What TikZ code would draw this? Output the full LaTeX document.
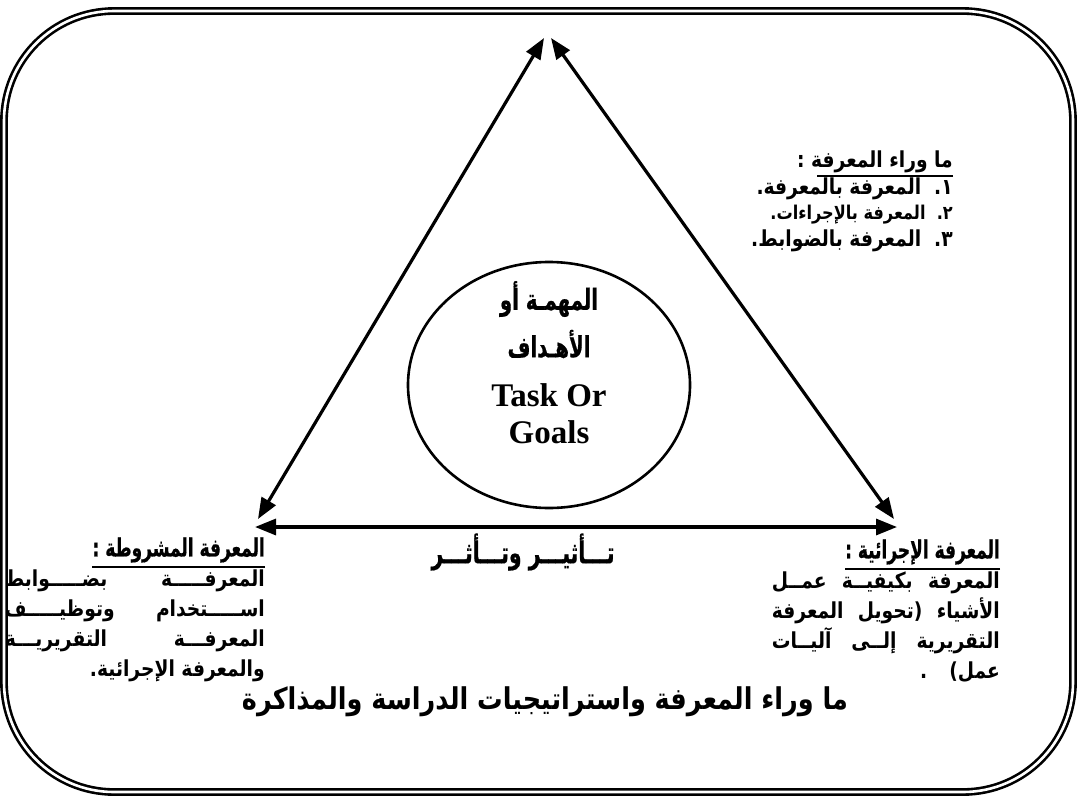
\documentclass[tikz,border=0pt]{standalone}
\usepackage{fontspec}
\setmainfont{Liberation Serif}
\newfontfamily\arabicfont[Script=Arabic, FakeStretch=0.85]{DejaVu Sans}
\newfontfamily\naskhfont[Script=Arabic, FakeStretch=0.68, FakeBold=0.6]{DejaVu Sans}
\TeXXeTstate=1
\usetikzlibrary{arrows.meta,positioning,shapes.geometric}
% one right-to-left line, and one stretched to a given width
\newcommand{\rtl}[1]{\beginR #1\endR}
\newcommand{\jline}[2]{\hbox to #1{\beginR #2\endR}}

\begin{document}
\begin{tikzpicture}[x=1pt, y=-1pt,
  frame/.style={double, double distance=2.6pt, line width=2.6pt, rounded corners=110pt},
  link/.style={{Triangle[length=21pt,width=16pt]}-{Triangle[length=21pt,width=16pt]}, line width=3.2pt},
  arab/.style={font=\arabicfont\bfseries\fontsize{22}{30}\selectfont, inner sep=0pt},
  head/.style={font=\naskhfont\bfseries\fontsize{25}{28}\selectfont, inner sep=0pt},
  uline/.style={line width=1.5pt}]
  \useasboundingbox (0,0) rectangle (1078,798);
  \draw[frame] (4,11) rectangle (1073,792);

  % corners of the triangle
  \coordinate (apexL) at (544,38);
  \coordinate (apexR) at (551,38);
  \coordinate (leftD) at (258,519);
  \coordinate (leftH) at (255,527);
  \coordinate (rightD) at (894,519);
  \coordinate (rightH) at (897,527);
  \draw[link] (leftD) -- (apexL);
  \draw[link] (rightD) -- (apexR);
  \draw[link] (leftH) -- (rightH);

  % task in the middle
  \node[ellipse, draw, line width=2.6pt, minimum width=282pt, minimum height=246pt] (goal) at (549,385) {};
  \node[head, font=\naskhfont\bfseries\fontsize{29}{30}\selectfont] (goalA) at (549,299) {\rtl{المهمـة أو}};
  \node[head, font=\naskhfont\bfseries\fontsize{29}{30}\selectfont] (goalB) at (549,344) {\rtl{الأهـداف}};
  \node[font=\bfseries\fontsize{33}{33}\selectfont, inner sep=0pt] (goalC) at (549,395) {Task Or};
  \node[font=\bfseries\fontsize{33}{33}\selectfont, inner sep=0pt] (goalD) at (549,432) {Goals};

  % metacognition list
  \node[arab, anchor=east] (metaT) at (953,162) {\rtl{ما وراء المعرفة :}};
  \draw[uline] ([yshift=-3pt]metaT.south east) -- ([xshift=20pt,yshift=-3pt]metaT.south west);
  \node[arab, anchor=east] (meta1) at (953,189) {\rtl{١.\ \ المعرفة بالمعرفة.}};
  \node[arab, anchor=east, font=\arabicfont\bfseries\fontsize{19}{24}\selectfont] (meta2) at (953,215) {\rtl{٢.\ \ المعرفة بالإجراءات.}};
  \node[arab, anchor=east] (meta3) at (953,241) {\rtl{٣.\ \ المعرفة بالضوابط.}};

  % conditional knowledge
  \node[head, anchor=east] (condT) at (265,550) {\rtl{المعرفة المشروطة :}};
  \draw[uline] ([yshift=-4pt]condT.south east) -- ([yshift=-4pt]condT.south west);
  \node[arab, anchor=north east, align=right] (condB) at (265,570) {%
    \jline{260pt}{المعرفـــــة \hfill بضـــــوابط}\\
    \jline{260pt}{اســـــتخدام \hfill وتوظيـــــف}\\
    \jline{260pt}{المعرفـــة \hfill التقريريـــة}\\
    \rtl{والمعرفة الإجرائية.}};

  % procedural knowledge
  \node[head, anchor=east] (procT) at (1000,552) {\rtl{المعرفة الإجرائية :}};
  \draw[uline] ([yshift=-4pt]procT.south east) -- ([yshift=-4pt]procT.south west);
  \node[arab, anchor=north east, align=right] (procB) at (1000,572) {%
    \jline{228pt}{المعرفة \hfill بكيفيــة \hfill عمــل}\\
    \jline{228pt}{الأشياء \hfill (تحويل \hfill المعرفة}\\
    \jline{228pt}{التقريرية \hfill إلــى \hfill آليــات}\\
    \rtl{عمل)\quad .}};

  % mutual influence
  \node[head, font=\naskhfont\bfseries\fontsize{30}{30}\selectfont] (mutual) at (523,552) {\rtl{تـــأثيـــر وتـــأثـــر}};

  % caption
  \node[arab, font=\arabicfont\bfseries\fontsize{30}{30}\selectfont] (caption) at (545,702) {\rtl{ما وراء المعرفة واستراتيجيات الدراسة والمذاكرة}};
\end{tikzpicture}
\end{document}
